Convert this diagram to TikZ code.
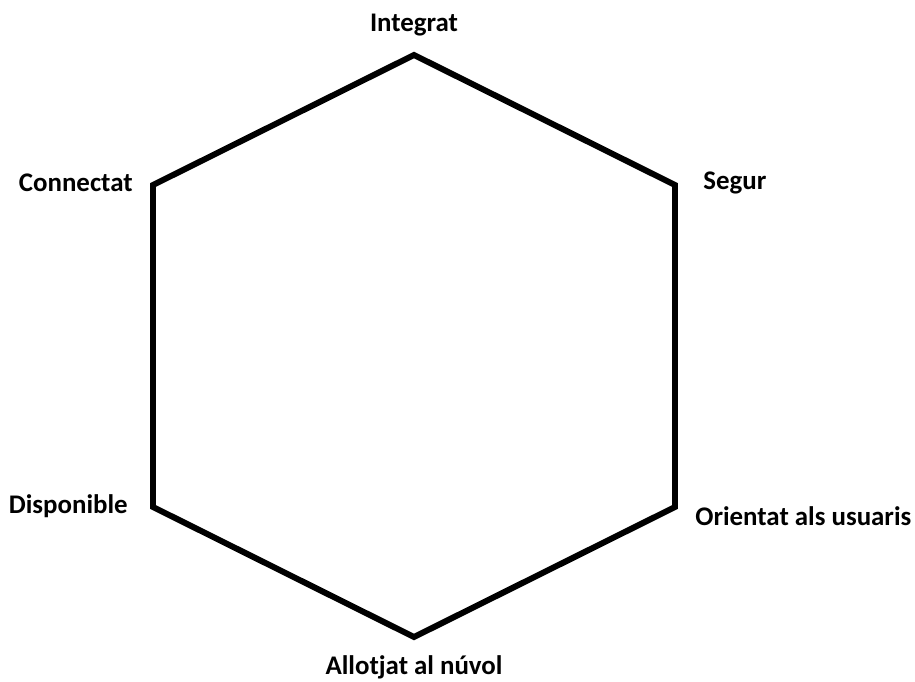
\documentclass[tikz,border=0pt]{standalone}
\usepackage{fontspec}
\setmainfont{Carlito}
\usepackage{tikz}
\usetikzlibrary{positioning}

\begin{document}
\begin{tikzpicture}[
		edge/.style={line width=3.4pt, line join=miter},
		lbl/.style={inner sep=0pt, font=\bfseries\fontsize{15.3}{18}\selectfont}
	]
	\useasboundingbox (0,0) rectangle (18.3,13.62);

	% vertexs de l'hexagon
	\coordinate (top) at (8.28, 12.52);
	\coordinate (ur) at (13.5, 9.92);
	\coordinate (lr) at (13.5, 3.48);
	\coordinate (bot) at (8.28, 0.88);
	\coordinate (ll) at (3.06, 3.48);
	\coordinate (ul) at (3.06, 9.92);

	\draw[edge] (top) -- (ur) -- (lr) -- (bot) -- (ll) -- (ul) -- cycle;

	% etiquetes
	\node[lbl] (integrat) at (8.28, 13.12) {Integrat};
	\node[lbl, anchor=east] (connectat) at (2.66, 9.96) {Connectat};
	\node[lbl, anchor=west] (segur) at (14.06, 9.96) {Segur};
	\node[lbl, anchor=east] (disponible) at (2.56, 3.5) {Disponible};
	\node[lbl, anchor=west] (orientat) at (13.9, 3.3) {Orientat als usuaris};
	\node[lbl] (allotjat) at (8.28, 0.28) {Allotjat al núvol};
\end{tikzpicture}
\end{document}
